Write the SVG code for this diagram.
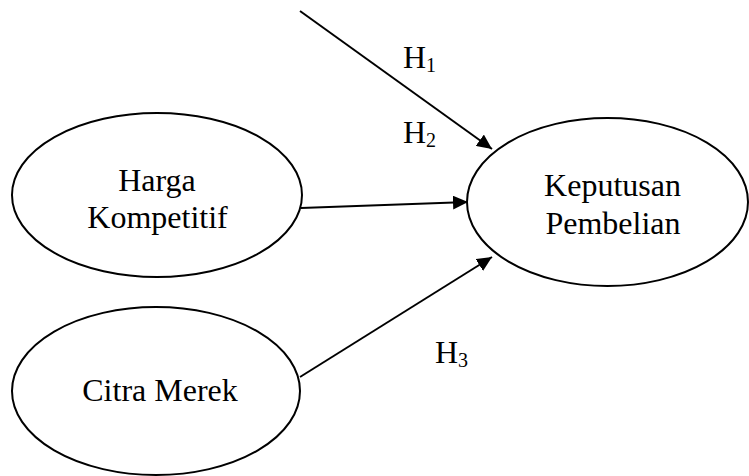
<svg xmlns="http://www.w3.org/2000/svg" width="749" height="476" viewBox="0 0 749 476">
<style>
.node ellipse{fill:#fff;stroke:#000;stroke-width:2}
text{font-family:"Liberation Serif","Times New Roman",serif;font-size:32px;fill:#000}
.lbl{text-anchor:middle}
.sub{font-size:20px}
.conn line{stroke:#000;stroke-width:2}
</style>
<defs>
<marker id="ah" markerUnits="userSpaceOnUse" markerWidth="16" markerHeight="14" refX="15" refY="7" orient="auto">
<path d="M0,0 L15,7 L0,14 z" fill="#000"/>
</marker>
</defs>
<rect width="749" height="476" fill="#fff"/>
<g id="harga" class="node">
<ellipse cx="157" cy="195" rx="145" ry="82"/>
<text class="lbl" x="157" y="191">Harga</text>
<text class="lbl" x="157.5" y="228">Kompetitif</text>
</g>
<g id="keputusan" class="node">
<ellipse cx="607.5" cy="202" rx="140.5" ry="84"/>
<text class="lbl" x="612.5" y="196">Keputusan</text>
<text class="lbl" x="613" y="234">Pembelian</text>
</g>
<g id="citra" class="node">
<ellipse cx="156" cy="391" rx="144" ry="84"/>
<text class="lbl" x="160" y="401">Citra Merek</text>
</g>
<g id="connectors" class="conn">
<line x1="300" y1="11" x2="492" y2="149" marker-end="url(#ah)"/>
<line x1="301" y1="208" x2="468" y2="202" marker-end="url(#ah)"/>
<line x1="300" y1="377" x2="492" y2="257" marker-end="url(#ah)"/>
</g>
<g id="labels">
<text x="403" y="68">H<tspan class="sub" dy="4">1</tspan></text>
<text x="403" y="143">H<tspan class="sub" dy="4">2</tspan></text>
<text x="435" y="363">H<tspan class="sub" dy="4">3</tspan></text>
</g>
</svg>
